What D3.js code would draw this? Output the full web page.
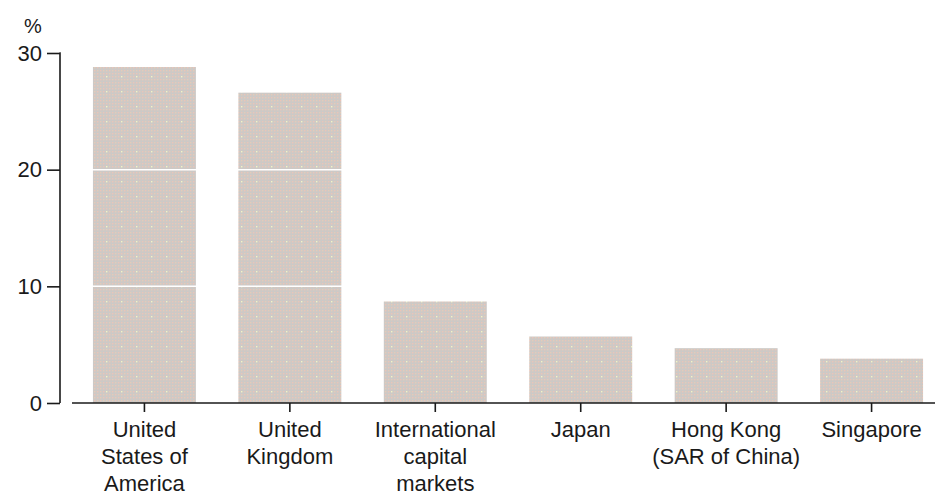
<!DOCTYPE html>
<html>
<head>
<meta charset="utf-8">
<script src="https://cdn.jsdelivr.net/npm/d3@7"></script>
<style>
  body { margin: 0; background: #fff; }
  text { font-family: "Liberation Sans", Arial, sans-serif; fill: #1a1a1a; }
</style>
</head>
<body>
<script>
// data
const categories = ['United States of America', 'United Kingdom', 'International capital markets', 'Japan', 'Hong Kong (SAR of China)', 'Singapore']
const label_lines = [['United', 'States of', 'America'], ['United', 'Kingdom'], ['International', 'capital', 'markets'], ['Japan'], ['Hong Kong', '(SAR of China)'], ['Singapore']]
const values = [28.8, 26.6, 8.7, 5.7, 4.7, 3.8]
const y_ticks = [0, 10, 20, 30]

const width = 935, height = 496
const plot = {left: 60, right: 935, top: 53, bottom: 403}

const svg = d3.select('body').append('svg')
    .attr('width', width)
    .attr('height', height)

// dotted fill for the bars
const defs = svg.append('defs')
const pat = defs.append('pattern')
    .attr('id', 'dots')
    .attr('patternUnits', 'userSpaceOnUse')
    .attr('width', 15).attr('height', 15)
pat.append('rect').attr('width', 15).attr('height', 15).attr('fill', '#cdc9c6')
for (let i = 0; i < 5; i++) {
    for (let j = 0; j < 5; j++) {
        const yellow = (i == 0 && j == 0)
        pat.append('rect')
            .attr('x', i * 3 + 1).attr('y', j * 3 + 1)
            .attr('width', 1.4).attr('height', 1.4)
            .attr('fill', yellow ? '#f2f4c4' : ((i + j) % 2 == 0 ? '#ebc4b8' : '#e4cbb8'))
    }
}

const x = d3.scaleBand()
    .domain(categories)
    .range([72, 944])
    .paddingInner(0.292)
    .paddingOuter(0.144)

const y = d3.scaleLinear()
    .domain([0, 30])
    .range([plot.bottom, plot.top])

// bars
svg.selectAll('rect.bar')
    .data(values)
    .enter()
    .append('rect')
    .attr('class', 'bar')
    .attr('x', (_, i) => x(categories[i]))
    .attr('width', x.bandwidth())
    .attr('y', d => y(d))
    .attr('height', d => y(0) - y(d))
    .attr('fill', 'url(#dots)')

// white gridlines over the bars
svg.selectAll('line.grid')
    .data(y_ticks.filter(t => t > 0 && t < 30))
    .enter()
    .append('line')
    .attr('class', 'grid')
    .attr('x1', 72).attr('x2', 935)
    .attr('y1', d => y(d)).attr('y2', d => y(d))
    .attr('stroke', '#fff')
    .attr('stroke-width', 1.5)

// y axis
const y_axis = svg.append('g')
    .attr('transform', `translate(${plot.left},0)`)
    .call(d3.axisLeft(y).tickValues(y_ticks).tickSize(13).tickPadding(5))
y_axis.select('.domain').attr('d', `M-0.5,${y(30)}H0V${y(0)}`).attr('stroke', '#1a1a1a').attr('stroke-width', 1.6)
y_axis.selectAll('.tick line').attr('stroke', '#1a1a1a').attr('stroke-width', 1.6)
y_axis.selectAll('.tick text')
    .style('font-size', '22px')
    .style('font-family', '"Liberation Sans", Arial, sans-serif')
    .attr('fill', '#1a1a1a')

svg.append('text')
    .attr('x', 33).attr('y', 33)
    .attr('text-anchor', 'middle')
    .style('font-size', '20px')
    .text('%')

// x axis
const x_axis = svg.append('g')
    .attr('transform', `translate(0,${plot.bottom})`)
    .call(d3.axisBottom(x).tickSize(9).tickFormat(''))
x_axis.select('.domain').attr('d', `M72,0H935`).attr('stroke', '#1a1a1a').attr('stroke-width', 1.6)
x_axis.selectAll('.tick line').attr('stroke', '#1a1a1a').attr('stroke-width', 1.6)

// multi-line category labels
const labels = svg.selectAll('text.xlab')
    .data(categories)
    .enter()
    .append('text')
    .attr('class', 'xlab')
    .attr('text-anchor', 'middle')
    .attr('transform', d => `translate(${x(d) + x.bandwidth() / 2},${plot.bottom + 34})`)
    .style('font-size', '22px')
labels.selectAll('tspan')
    .data((_, i) => label_lines[i])
    .enter()
    .append('tspan')
    .attr('x', 0)
    .attr('y', (_, j) => j * 27)
    .text(d => d)
</script>
</body>
</html>
